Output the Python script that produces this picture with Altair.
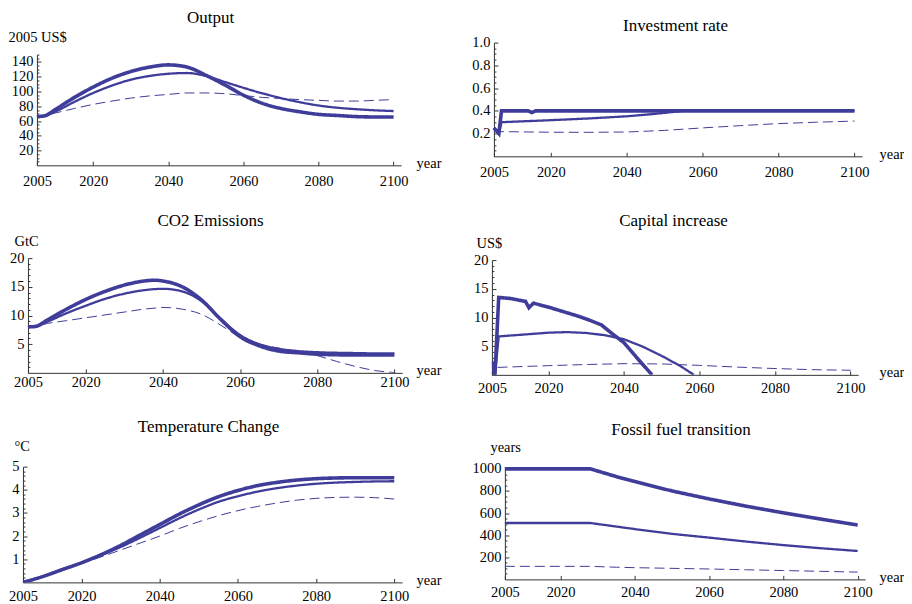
import altair as alt
import pandas as pd

FONT = "Liberation Serif"
COLOR = "#3f3d99"
SER = ["thick", "thin", "dash"]
XTICKS = [2005, 2020, 2040, 2060, 2080, 2100]

# ---------------- Output (2005 US$) ----------------
out_years = [2005, 2007, 2010, 2015, 2020, 2025, 2030, 2035, 2040, 2045, 2050,
             2055, 2060, 2065, 2070, 2075, 2080, 2085, 2090, 2095, 2100]
out_thick = [66, 67, 76, 92, 106, 118, 127, 133, 136, 133, 122,
             109, 95, 84, 77, 72.5, 69, 67.5, 66, 65.5, 65.5]
out_thin = [66, 67, 73, 86, 98, 108, 116, 121, 124, 125, 121,
            113, 105, 97.5, 91, 85.5, 81, 78, 76, 74.5, 73.5]
out_dash = [66, 67.5, 71, 77, 82.5, 87, 91, 94, 96, 98, 98,
            97, 94.5, 92, 90.5, 89, 88, 87, 87, 88, 89]

# ---------------- Investment rate ----------------
inv_thick_years = [2005, 2006.3, 2007, 2014, 2015, 2016, 2100]
inv_thick = [0.25, 0.20, 0.40, 0.40, 0.385, 0.40, 0.40]
inv_thin_years = [2005, 2006.3, 2007, 2020, 2030, 2040, 2047, 2055, 2100]
inv_thin = [0.25, 0.20, 0.30, 0.318, 0.333, 0.352, 0.372, 0.40, 0.40]
inv_dash_years = [2005, 2020, 2030, 2040, 2050, 2060, 2070, 2080, 2090, 2100]
inv_dash = [0.218, 0.212, 0.211, 0.214, 0.228, 0.25, 0.27, 0.288, 0.30, 0.31]

# ---------------- CO2 Emissions (GtC) ----------------
co2_years = [2005, 2007, 2010, 2015, 2020, 2025, 2030, 2035, 2038, 2040, 2045,
             2050, 2055, 2060, 2065, 2070, 2075, 2080, 2085, 2090, 2095, 2100]
co2_thick = [8.0, 8.1, 9.2, 11.1, 12.8, 14.2, 15.3, 16.0, 16.15, 16.0, 15.0,
             12.7, 9.3, 6.3, 4.7, 3.8, 3.5, 3.25, 3.15, 3.1, 3.1, 3.1]
co2_thin = [8.0, 8.1, 8.9, 10.4, 11.7, 12.9, 13.8, 14.4, 14.6, 14.65, 14.2,
            12.5, 9.4, 6.6, 5.0, 4.2, 3.8, 3.6, 3.5, 3.45, 3.4, 3.4]
co2_dash = [8.0, 8.1, 8.6, 9.1, 9.6, 10.1, 10.6, 11.1, 11.3, 11.4, 11.1,
            10.2, 8.3, 6.2, 5.0, 4.3, 3.7, 3.0, 2.0, 1.1, 0.4, 0.05]

# ---------------- Capital increase (US$) ----------------
cap_thick_years = [2005, 2005.8, 2006.8, 2010, 2013.9, 2014.8, 2016, 2020, 2025,
                   2028, 2031, 2034, 2037, 2040, 2043.5, 2047.4]
cap_thick = [2.3, 0, 13.5, 13.3, 12.8, 11.7, 12.5, 11.8, 10.8,
             10.2, 9.5, 8.7, 7.1, 5.6, 2.9, 0]
cap_thin_years = [2005, 2005.8, 2006.8, 2015, 2020, 2025, 2030, 2035, 2040,
                  2045, 2050, 2055, 2058.5]
cap_thin = [2.3, 0, 6.7, 7.1, 7.35, 7.45, 7.3, 6.9, 6.2, 4.9, 3.3, 1.5, 0]
cap_dash_years = [2006.5, 2020, 2030, 2040, 2050, 2060, 2070, 2080, 2090, 2100]
cap_dash = [1.3, 1.6, 1.8, 1.95, 1.9, 1.65, 1.35, 1.1, 0.9, 0.8]

# ---------------- Temperature Change (°C) ----------------
tmp_years = [2005, 2010, 2015, 2020, 2025, 2030, 2035, 2040, 2045, 2050,
             2055, 2060, 2065, 2070, 2075, 2080, 2085, 2090, 2095, 2100]
tmp_thick = [0.0, 0.25, 0.55, 0.85, 1.2, 1.6, 2.05, 2.5, 2.95, 3.35,
             3.7, 3.97, 4.18, 4.32, 4.42, 4.48, 4.51, 4.52, 4.52, 4.52]
tmp_thin = [0.0, 0.25, 0.54, 0.84, 1.17, 1.53, 1.93, 2.35, 2.77, 3.15,
            3.48, 3.72, 3.92, 4.07, 4.18, 4.26, 4.31, 4.34, 4.36, 4.37]
tmp_dash = [0.0, 0.25, 0.53, 0.82, 1.1, 1.4, 1.7, 2.0, 2.33, 2.62,
            2.88, 3.1, 3.28, 3.43, 3.55, 3.63, 3.67, 3.68, 3.66, 3.6]

# ---------------- Fossil fuel transition (years) ----------------
fos_years = [2005, 2028, 2035, 2040, 2050, 2060, 2070, 2080, 2090, 2100]
fos_thick = [1000, 1000, 930, 885, 800, 728, 662, 602, 546, 492]
fos_thin = [510, 510, 478, 455, 412, 378, 342, 310, 282, 257]
fos_dash = [118, 118, 110, 106, 100, 94, 87, 80, 73, 66]


def frame(parts):
    rows = []
    for name, yrs, vals in parts:
        for y, v in zip(yrs, vals):
            rows.append({"year": y, "v": v, "s": name})
    return pd.DataFrame(rows)


def minor_vals(step, top, major):
    out, k = [], 1
    while k * step < top + 1e-9:
        val = round(k * step, 6)
        if abs(val / major - round(val / major)) > 1e-6:
            out.append(val)
        k += 1
    return out


def panel(df, title, tdx, toff, ydom, ymajor, yminor, yfmt, ytitle, ytx, yty,
          xoff, pw, gw, top, ph, year_x, xpad, interp):
    gh = top + ph
    xaxis = alt.Axis(values=XTICKS, format="d", title="year", titleX=year_x, titleY=2,
                     titleAlign="left", titleBaseline="alphabetic", titleAngle=0,
                     titleFont=FONT, titleFontSize=14.5, titleFontWeight="normal",
                     titleColor="#000000", labelFlush=False, labelOverlap=False,
                     tickSize={"expr": "-4"}, labelPadding=xpad, grid=False)
    xscale = alt.Scale(domain=[2005, 2102], nice=False, zero=False, range=[xoff, xoff + pw])
    yscale = alt.Scale(domain=ydom, nice=False, zero=False, range=[gh, top])
    yargs = dict(values=ymajor, format=yfmt, labelFlush=False, labelOverlap=False,
                 tickSize={"expr": "-4"}, labelPadding=8, grid=False, orient="left",
                 labelBaseline="middle", offset=-xoff)
    if ytitle:
        yargs.update(title=ytitle, titleX=ytx, titleY=yty + top, titleAngle=0, titleAlign="left",
                     titleBaseline="middle", titleFont=FONT, titleFontSize=14.5,
                     titleFontWeight="normal", titleColor="#000000")
    else:
        yargs.update(title=None)
    lines = alt.Chart(df).mark_line(clip=True, color=COLOR, interpolate=interp).encode(
        x=alt.X("year:Q", scale=xscale, axis=xaxis),
        y=alt.Y("v:Q", scale=yscale, axis=alt.Axis(**yargs)),
        detail="s:N",
        strokeWidth=alt.StrokeWidth("s:N", scale=alt.Scale(domain=SER, range=[3.6, 1.0, 1.1]), legend=None),
        strokeDash=alt.StrokeDash("s:N", scale=alt.Scale(domain=SER, range=[[1, 0], [1, 0], [10, 5]]), legend=None),
    )
    minor = alt.Chart(df).mark_point(opacity=0).encode(
        y=alt.Y("v:Q", scale=yscale,
                axis=alt.Axis(values=yminor, labels=False, domain=False, title=None, grid=False,
                              orient="left", tickSize={"expr": "-2"}, offset=-xoff))
    )
    return alt.layer(lines, minor).resolve_axis(y="independent").properties(
        width=gw, height=gh,
        title=alt.TitleParams(title, font=FONT, fontSize=17, fontWeight="normal", color="#000000",
                              anchor="middle", offset=toff, dx=tdx),
    )


# args: title, dx, offset, domain, majors, minors, fmt, ytitle, titleX, titleY,
#       xoff, plot width, group width, top, plot height, yearX, xLabelPad, interpolation
p_out = panel(frame([("thick", out_years, out_thick), ("thin", out_years, out_thin), ("dash", out_years, out_dash)]),
              "Output", -2, 3, [0, 150], [20, 40, 60, 80, 100, 120, 140], minor_vals(5, 150, 20), "d",
              "2005 US$", -29, -17, 14, 365, 380, 12, 111, 394, 13, "monotone")
p_inv = panel(frame([("thick", inv_thick_years, inv_thick), ("thin", inv_thin_years, inv_thin),
                     ("dash", inv_dash_years, inv_dash)]),
              "Investment rate", -1.5, 0, [0, 1], [0.2, 0.4, 0.6, 0.8, 1.0], minor_vals(0.05, 1, 0.2), ".1f",
              None, 0, 0, 2, 369, 371, 0, 114, 388, 13, "linear")
p_co2 = panel(frame([("thick", co2_years, co2_thick), ("thin", co2_years, co2_thin), ("dash", co2_years, co2_dash)]),
              "CO2 Emissions", -2, 3, [0, 20], [5, 10, 15, 20], minor_vals(1, 20, 5), "d",
              "GtC", -14, -17, 5, 375, 380, 1, 115, 394, 7, "monotone")
p_cap = panel(frame([("thick", cap_thick_years, cap_thick), ("thin", cap_thin_years, cap_thin),
                     ("dash", cap_dash_years, cap_dash)]),
              "Capital increase", -1.5, 5, [0, 20], [5, 10, 15, 20], minor_vals(1, 20, 5), "d",
              "US$", -16, -17, 0, 367, 367, 3, 115, 388, 10.5, "linear")
p_tmp = panel(frame([("thick", tmp_years, tmp_thick), ("thin", tmp_years, tmp_thin), ("dash", tmp_years, tmp_dash)]),
              "Temperature Change", -4, 3, [0, 5], [1, 2, 3, 4, 5], minor_vals(0.2, 5, 1), "d",
              "°C", -9, -20, 0, 380, 380, 0, 116, 394, 11.5, "monotone")
p_fos = panel(frame([("thick", fos_years, fos_thick), ("thin", fos_years, fos_thin), ("dash", fos_years, fos_dash)]),
              "Fossil fuel transition", 2.5, 1, [0, 1020], [200, 400, 600, 800, 1000], minor_vals(50, 1020, 200), "d",
              "years", -15, -19, 13, 361, 374, 0, 113, 388, 10.5, "linear")

chart = alt.concat(p_out, p_inv, p_co2, p_cap, p_tmp, p_fos, columns=2, bounds="flush",
                   align="each", spacing={"row": 92, "column": 90}).properties(
    padding={"top": 0, "left": 0, "right": 0, "bottom": 0}, background="#ffffff"
).configure_view(stroke=None).configure_axis(
    labelFont=FONT, labelFontSize=14.5, labelColor="#000000",
    domainColor="#333333", tickColor="#333333", domainWidth=1, tickWidth=1,
)

chart.save("out.html", embed_options={"renderer": "svg", "actions": False})
